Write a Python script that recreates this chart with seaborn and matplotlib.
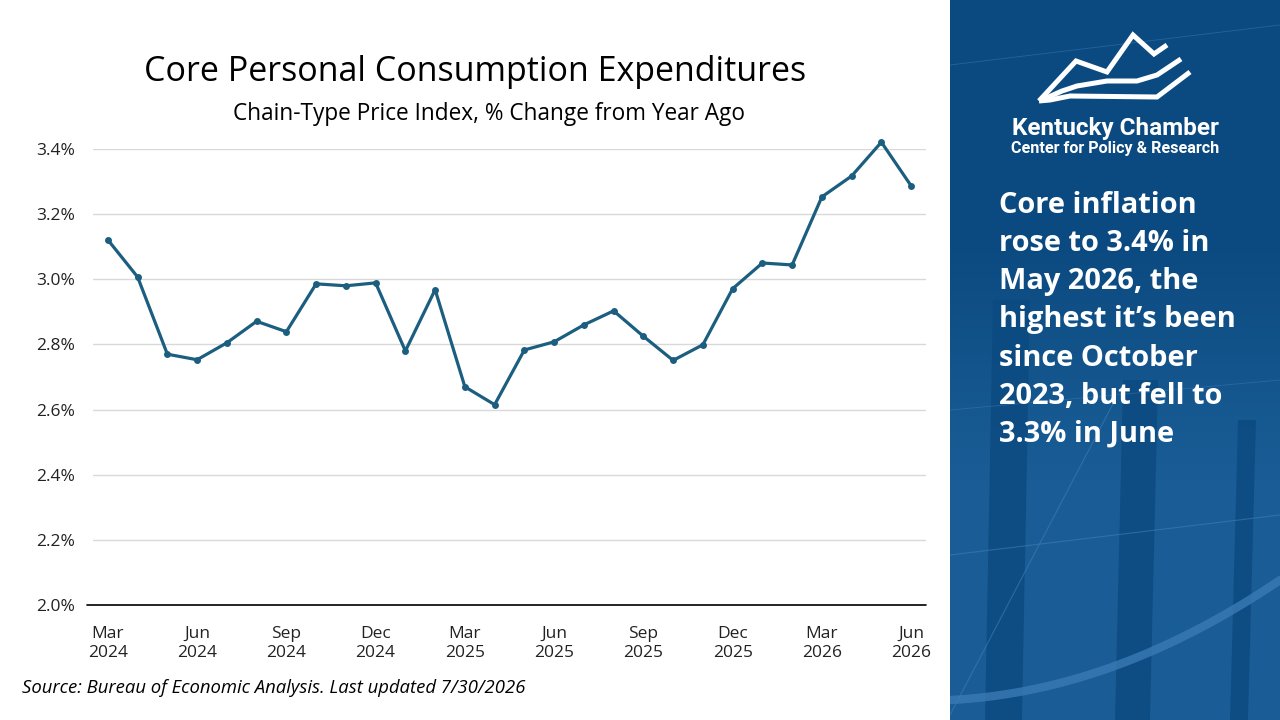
import numpy as np
import pandas as pd
import matplotlib.pyplot as plt
import seaborn as sns
from matplotlib.ticker import FuncFormatter

# Core PCE, % change from year ago
months = ["Mar 2024", "Apr 2024", "May 2024", "Jun 2024", "Jul 2024", "Aug 2024",
          "Sep 2024", "Oct 2024", "Nov 2024", "Dec 2024", "Jan 2025", "Feb 2025",
          "Mar 2025", "Apr 2025", "May 2025", "Jun 2025", "Jul 2025", "Aug 2025",
          "Sep 2025", "Oct 2025", "Nov 2025", "Dec 2025", "Jan 2026", "Feb 2026",
          "Mar 2026", "Apr 2026", "May 2026", "Jun 2026"]
core_pce = [3.121, 3.007, 2.770, 2.753, 2.805, 2.871, 2.839, 2.986, 2.980, 2.989,
            2.780, 2.968, 2.670, 2.615, 2.783, 2.808, 2.860, 2.903, 2.825, 2.751,
            2.799, 2.971, 3.050, 3.044, 3.253, 3.317, 3.421, 3.287]
y_ticks = [2.0, 2.2, 2.4, 2.6, 2.8, 3.0, 3.2, 3.4]

TITLE = "Core Personal Consumption Expenditures"
SUBTITLE = "Chain-Type Price Index, % Change from Year Ago"
SOURCE = "Source: Bureau of Economic Analysis. Last updated 7/30/2026"
CALLOUT = ("Core inflation\nrose to 3.4% in\nMay 2026, the\nhighest it\u2019s been\n"
           "since October\n2023, but fell to\n3.3% in June")

df = pd.DataFrame({"month": months, "value": core_pce})
df["idx"] = np.arange(len(df))

sns.set_theme(style="whitegrid")
plt.rcParams["font.family"] = ["Open Sans", "DejaVu Sans"]

LINE = "#1b5e80"
PANEL = "#0b4a80"

fig = plt.figure(figsize=(12.8, 7.2), dpi=100)
fig.patch.set_facecolor("white")

# --- main chart ---
ax = fig.add_axes([93 / 1280, 1 - 605 / 720, 833 / 1280, 456 / 720])
sns.lineplot(data=df, x="idx", y="value", ax=ax, color=LINE, linewidth=2.3,
             marker="o", markersize=5, markeredgewidth=0, clip_on=False)
ax.set_xlim(-0.5, len(df) - 0.5)
ax.set_ylim(2.0, 3.4)
ax.set_yticks(y_ticks)
ax.yaxis.set_major_formatter(FuncFormatter(lambda v, p: f"{v:.1f}%"))
tick_pos = df["idx"][::3].tolist()
ax.set_xticks(tick_pos)
ax.set_xticklabels([m.replace(" ", "\n") for m in df["month"][::3]], linespacing=1.3)
ax.set_xlabel("")
ax.set_ylabel("")
ax.set_facecolor("white")
ax.grid(axis="x", visible=False)
ax.grid(axis="y", color="#d9d9d9", linewidth=1)
for s in ["top", "right", "left", "bottom"]:
    ax.spines[s].set_visible(False)
# black baseline, a bit longer on the left like the original
ax.plot([-0.7, len(df) - 0.5], [2.0, 2.0], color="black", lw=1.2, clip_on=False, zorder=0.8)
ax.tick_params(axis="y", length=0, pad=13, labelsize=12.5, labelcolor="#222222")
ax.tick_params(axis="x", length=0, pad=15, labelsize=12.5, labelcolor="#222222")

fig.text(475 / 1280, 1 - 72 / 720, TITLE, ha="center", va="center",
         fontsize=24.5, color="black")
fig.text(489 / 1280, 1 - 114 / 720, SUBTITLE, ha="center", va="center",
         fontsize=16.3, color="black")
fig.text(22 / 1280, 1 - 688 / 720, SOURCE, ha="left", va="center",
         fontsize=13.3, style="italic", color="black")

# --- right panel (pixel coordinates) ---
px = fig.add_axes([950 / 1280, 0, 330 / 1280, 1])
px.set_xlim(0, 330)
px.set_ylim(720, 0)
px.axis("off")
grad = np.linspace(0, 1, 256).reshape(-1, 1)
px.imshow(grad, extent=[0, 330, 720, 0], aspect="auto",
          cmap=sns.blend_palette([PANEL, PANEL, "#1a5d96", "#1a5d96"], as_cmap=True))
# darker vertical stripes
for x0, x1, top in [(35, 72, 300), (165, 200, 380), (280, 298, 420)]:
    px.fill([x0 + 8, x1 + 8, x1, x0], [top, top, 720, 720], color=PANEL, alpha=0.8, lw=0)
# light band and thin lines
xs = np.linspace(0, 330, 100)
px.plot(xs, 700 - 0.00095 * xs ** 2 - 0.05 * xs, color="#3a7bb5", lw=6, alpha=0.8)
px.plot([0, 330], [555, 515], color="#3f7db3", lw=0.8, alpha=0.6)
px.plot([0, 165], [715, 400], color="#3f7db3", lw=0.8, alpha=0.6)
px.plot([0, 330], [65, 25], color="#3f7db3", lw=0.6, alpha=0.5)
px.plot([0, 330], [410, 380], color="#3f7db3", lw=0.6, alpha=0.5)

# logo
logo = dict(color="white", lw=3.6, solid_joinstyle="miter", solid_capstyle="butt")
px.plot([89, 126, 157, 183, 204, 217], [101, 61, 72, 35, 54, 45], **logo)
px.plot([92, 112, 127, 157, 187, 207, 231], [100, 91, 86, 81, 81, 75, 59], **logo)
px.plot([89, 100, 120, 207, 240], [101, 100, 96, 97, 72], **logo)
px.text(165, 128, "Kentucky Chamber", ha="center", va="center", color="white",
        fontsize=17.5, fontweight="bold", family=["Roboto", "DejaVu Sans"])
px.text(165, 148, "Center for Policy & Research", ha="center", va="center",
        color="white", fontsize=11.6, fontweight="bold", family=["Roboto", "DejaVu Sans"])

px.text(49, 320, CALLOUT, ha="left", va="center", color="white", fontsize=20.9,
        fontweight="bold", linespacing=1.41, family=["Open Sans", "DejaVu Sans"])

fig.savefig("out.png", dpi=100)
